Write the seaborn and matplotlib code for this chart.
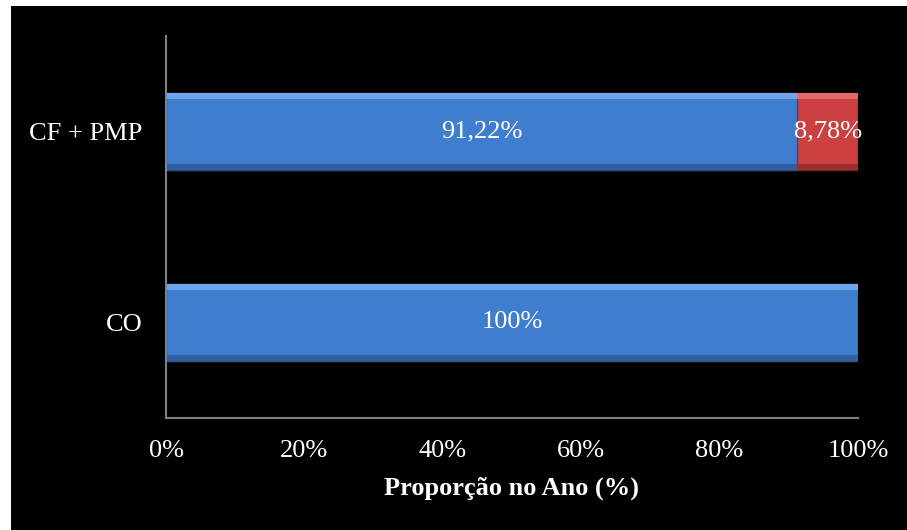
import matplotlib
matplotlib.use("Agg")
import matplotlib.pyplot as plt
import seaborn as sns
import pandas as pd
from matplotlib.patches import Rectangle

categories = ["CF + PMP", "CO"]
series_blue = [91.22, 100.0]
series_red = [8.78, 0.0]
blue_labels = ["91,22%", "100%"]
red_labels = ["8,78%", ""]
x_ticks = [0, 20, 40, 60, 80, 100]
x_tick_labels = ["0%", "20%", "40%", "60%", "80%", "100%"]

sns.set_theme(style="white")
plt.rcParams["font.family"] = ["Liberation Serif", "DejaVu Serif"]

fig = plt.figure(figsize=(9.07, 5.30), dpi=100, facecolor="white")
bg = Rectangle((11 / 907, 0), 1 - 11 / 907, 1 - 6 / 530,
               transform=fig.transFigure, facecolor="black",
               edgecolor="none", zorder=-10)
fig.patches.append(bg)
ax = fig.add_axes([166 / 907, 1 - 418 / 530, (858 - 166) / 907, (418 - 36) / 530])
ax.set_zorder(5)
ax.set_facecolor("black")

df = pd.DataFrame({"cat": categories,
                   "total": [b + r for b, r in zip(series_blue, series_red)],
                   "blue": series_blue})

sns.barplot(data=df, y="cat", x="total", orient="h", color="#CC4040",
            saturation=1, width=0.4, edgecolor="#7A2424", linewidth=1, ax=ax)
sns.barplot(data=df, y="cat", x="blue", orient="h", color="#3F7DCF",
            saturation=1, width=0.4, edgecolor="#24508A", linewidth=1, ax=ax)

red_cont, blue_cont = ax.containers[0], ax.containers[1]

# bevel effect: light top band, dark bottom band, derived from each bar
def bevel(container, light, dark):
    for rect in container:
        x, y, w, h = rect.get_x(), rect.get_y(), rect.get_width(), rect.get_height()
        if w <= 0:
            continue
        # y axis inverted: top of bar on screen is at y (smaller value)
        ax.add_patch(Rectangle((x, y), w, h * 0.07, facecolor=light,
                               edgecolor="none", zorder=rect.get_zorder() + 0.1))
        ax.add_patch(Rectangle((x, y + h * 0.92), w, h * 0.08, facecolor=dark,
                               edgecolor="none", zorder=rect.get_zorder() + 0.1))

bevel(red_cont, "#E26A6A", "#9A2E2E")
bevel(blue_cont, "#6FA6EA", "#2F5F9E")

for rect, lab, b, r in zip(red_cont, red_labels, series_blue, series_red):
    if r > 0:
        ax.text(b + r / 2, rect.get_y() + rect.get_height() / 2, lab,
                ha="center", va="center", color="white", fontsize=19, zorder=10)
ax.bar_label(blue_cont, labels=blue_labels, label_type="center",
             color="white", fontsize=19, zorder=10)

ax.set_xlim(0, 100)
ax.set_ylim(1.5, -0.5)
ax.set_xticks(x_ticks)
ax.set_xticklabels(x_tick_labels)
ax.tick_params(axis="both", length=0, colors="white", labelsize=19)
ax.tick_params(axis="x", pad=16)
ax.tick_params(axis="y", pad=17)
ax.set_ylabel("")
ax.set_xlabel("Proporção no Ano (%)", color="white", fontsize=19,
              fontweight="bold", labelpad=10)

for side in ["top", "right"]:
    ax.spines[side].set_visible(False)
for side in ["left", "bottom"]:
    ax.spines[side].set_color("#808080")
    ax.spines[side].set_linewidth(1.5)

fig.savefig("out.png", dpi=100, facecolor=fig.get_facecolor())
